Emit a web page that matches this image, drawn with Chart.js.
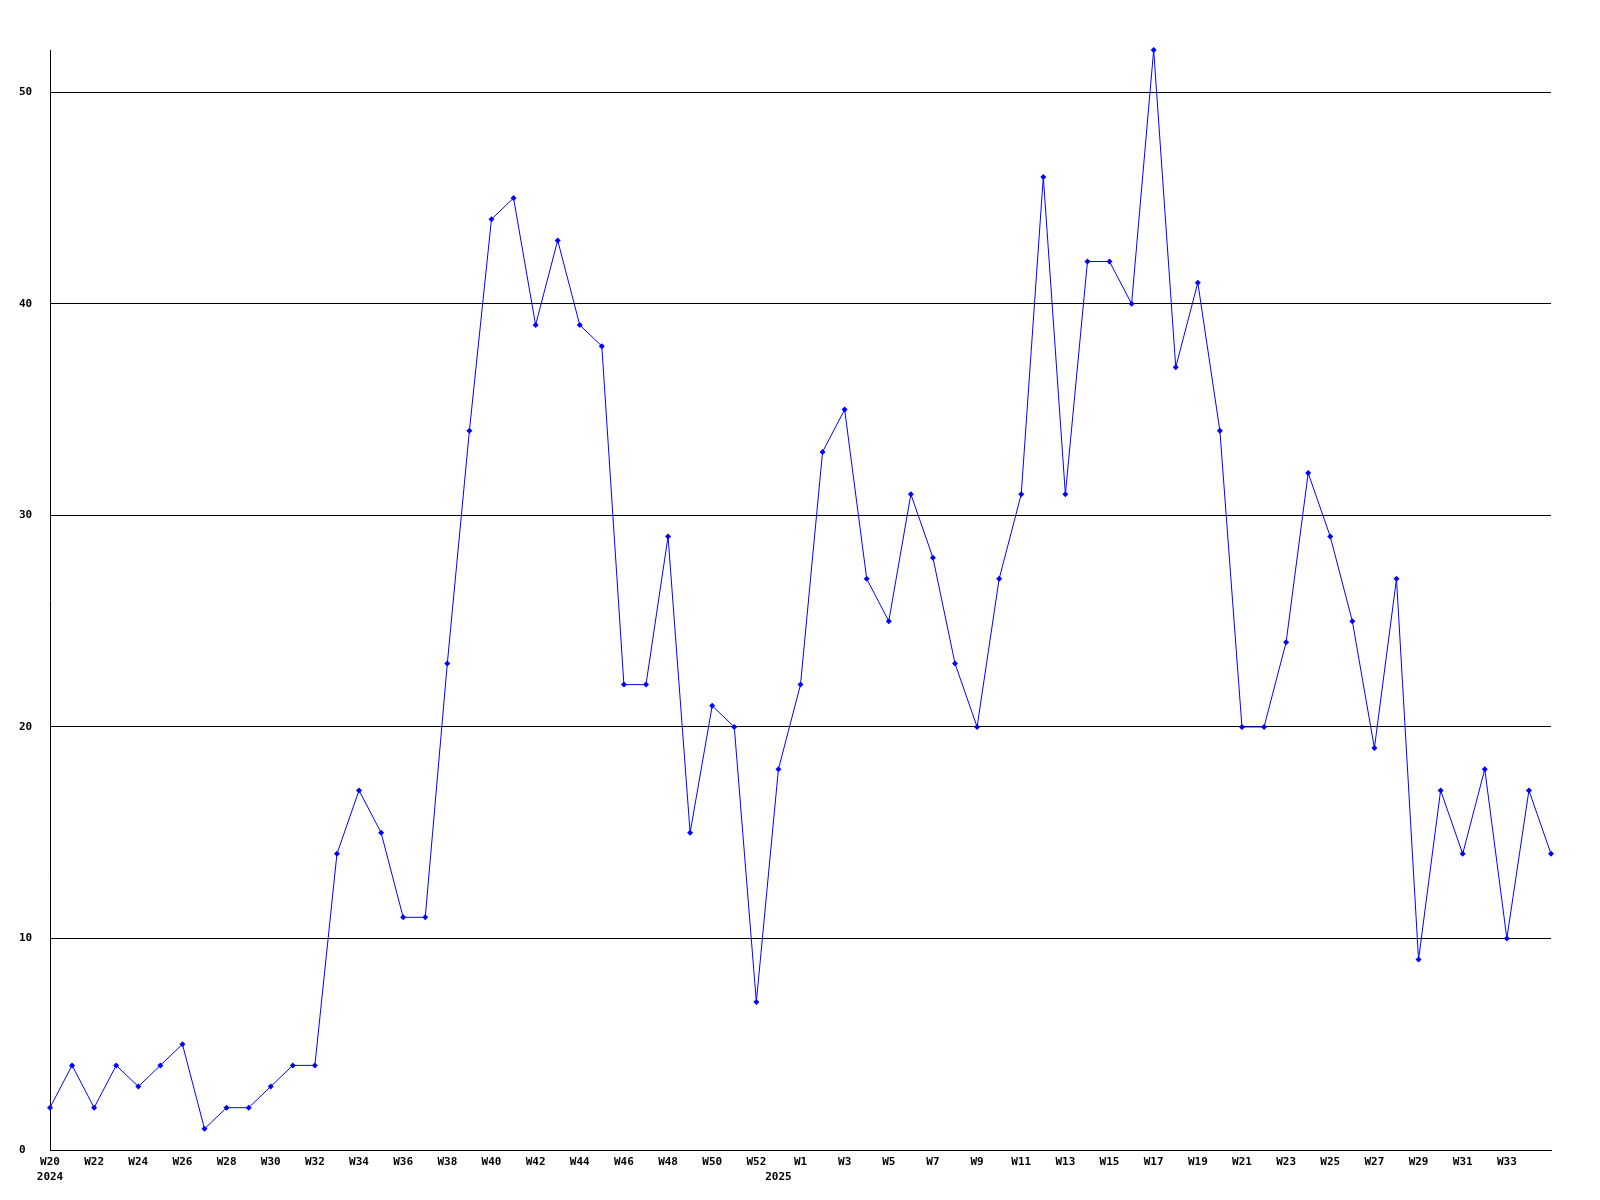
<!DOCTYPE html>
<html>
<head>
<meta charset="utf-8">
<script src="https://cdn.jsdelivr.net/npm/chart.js@4/dist/chart.umd.min.js"></script>
<style>
  html, body { margin: 0; padding: 0; background: #fff; }
  #wrap { width: 1600px; height: 1200px; }
</style>
</head>
<body>
<div id="wrap"><canvas id="lineChart" width="1600" height="1200"></canvas></div>
<script>
// weeks 2024 W20..W53, then 2025 W1..W35
var weeks = ["W20","W21","W22","W23","W24","W25","W26","W27","W28","W29","W30","W31","W32","W33","W34","W35","W36","W37","W38","W39","W40","W41","W42","W43","W44","W45","W46","W47","W48","W49","W50","W51","W52","W53",
             "W1","W2","W3","W4","W5","W6","W7","W8","W9","W10","W11","W12","W13","W14","W15","W16","W17","W18","W19","W20","W21","W22","W23","W24","W25","W26","W27","W28","W29","W30","W31","W32","W33","W34","W35"];
var counts = [2,4,2,4,3,4,5,1,2,2,3,4,4,14,17,15,11,11,23,34,44,45,39,43,39,38,22,22,29,15,21,20,7,18,
              22,33,35,27,25,31,28,23,20,27,31,46,31,42,42,40,52,37,41,34,20,20,24,32,29,25,19,27,9,17,14,18,10,17,14];
var yearLabels = {0: "2024", 33: "2025"};
var yTicks = [0, 10, 20, 30, 40, 50];

var tickFont = { family: "'DejaVu Sans Mono', monospace", size: 11, weight: "bold", lineHeight: 1.36 };

var ctx = document.getElementById("lineChart").getContext("2d");
new Chart(ctx, {
    type: "line",
    data: {
        labels: weeks,
        datasets: [{
            data: counts,
            borderColor: "#0000ff",
            backgroundColor: "#0000ff",
            borderWidth: 1,
            pointStyle: "rectRot",
            pointRadius: 3,
            pointBorderWidth: 0,
            tension: 0,
            fill: false,
            clip: false
        }]
    },
    options: {
        responsive: false,
        animation: false,
        layout: { padding: { left: 19, top: 50, right: 49, bottom: 0 } },
        plugins: { legend: { display: false }, tooltip: { enabled: false } },
        scales: {
            x: {
                type: "category",
                offset: false,
                grid: { display: false, drawTicks: false },
                border: { display: true, color: "#000", width: 1 },
                afterFit: function(scale) { scale.height = 50; },
                ticks: {
                    autoSkip: false,
                    maxRotation: 0,
                    padding: 5,
                    color: "#000",
                    font: tickFont,
                    callback: function(val, i) {
                        var lbl = (i % 2 === 0 && i < weeks.length - 1) ? weeks[i] : "";
                        if (yearLabels[i]) return [lbl, yearLabels[i]];
                        return lbl;
                    }
                }
            },
            y: {
                min: 0,
                max: Math.max.apply(null, counts),
                afterBuildTicks: function(scale) {
                    scale.ticks = yTicks.map(function(v) { return { value: v }; });
                },
                afterFit: function(scale) { scale.width = 31; },
                grid: { color: "#000", lineWidth: 1, drawTicks: false },
                border: { display: true, color: "#000", width: 1 },
                ticks: {
                    crossAlign: "far",
                    padding: 0,
                    color: "#000",
                    font: tickFont
                }
            }
        }
    }
});
</script>
</body>
</html>
